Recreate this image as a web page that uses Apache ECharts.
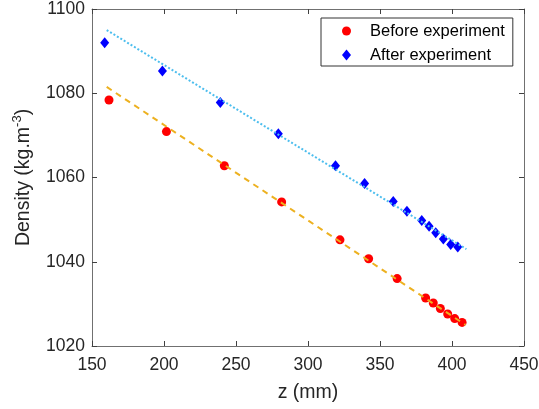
<!DOCTYPE html>
<html>
<head>
<meta charset="utf-8">
<script src="https://cdn.jsdelivr.net/npm/echarts@6/dist/echarts.min.js"></script>
<style>html,body{margin:0;padding:0;background:#fff;}#c{width:539px;height:409px;}</style>
</head>
<body>
<div id="c"></div>
<script>
var beforeZ = [161.8, 201.7, 241.9, 281.7, 322.2, 342.1, 361.9, 381.7, 387.0, 391.9, 397.0, 401.9, 407.0];
var beforeD = [1078.4, 1070.9, 1062.8, 1054.2, 1045.2, 1040.7, 1036.0, 1031.4, 1030.2, 1028.9, 1027.6, 1026.5, 1025.6];
var afterZ = [158.8, 198.9, 239.1, 279.4, 319.1, 339.3, 359.2, 368.7, 379.0, 384.1, 388.7, 394.0, 399.1, 404.0];
var afterD = [1092.0, 1085.3, 1077.8, 1070.4, 1062.8, 1058.6, 1054.3, 1052.0, 1049.8, 1048.4, 1046.9, 1045.4, 1044.1, 1043.5];
var fitBeforeZ = [160.2, 409.4];
var fitBeforeD = [1081.5, 1025.0];
var fitAfterZ = [160.2, 410.0];
var fitAfterD = [1095.0, 1043.0];
var seriesNames = ['Before experiment', 'After experiment'];
var xTitle = 'z (mm)';
var yTitle = 'Density (kg.m{sup|-3})';

function pairs(a, b) { return a.map(function (v, i) { return [v, b[i]]; }); }

var font = 'Liberation Sans, Arial, Helvetica, sans-serif';
var txt = '#262626';
var axisCol = '#707070';
var plain = function (v) { return String(v); };

var chart = echarts.init(document.getElementById('c'), null, {renderer: 'canvas'});
var boxAxis = {
  axisLine: {show: true, lineStyle: {color: axisCol, width: 1}},
  axisTick: {show: true, inside: true, length: 5, lineStyle: {color: '#404040'}},
  axisLabel: {show: false},
  splitLine: {show: false}
};
chart.setOption({
  animation: false,
  backgroundColor: '#fff',
  grid: {left: 92, right: 15, top: 9, bottom: 63, containLabel: false, outerBoundsMode: 'none'},
  legend: {
    left: 321, top: 18, orient: 'vertical',
    backgroundColor: '#fff', borderColor: '#333', borderWidth: 1,
    padding: [4, 8, 2, 21],
    itemWidth: 9, itemHeight: 11, itemGap: 6,
    textStyle: {fontFamily: font, fontSize: 16.5, color: '#000', lineHeight: 18, padding: [0, 0, 0, 14]},
    data: [{name: seriesNames[0], icon: 'circle'}, {name: seriesNames[1], icon: 'diamond'}]
  },
  xAxis: [{
    type: 'value', min: 150, max: 450, interval: 50, position: 'bottom',
    name: xTitle, nameLocation: 'middle', nameGap: 37,
    nameTextStyle: {fontFamily: font, fontSize: 19.5, color: txt},
    axisLine: {show: true, lineStyle: {color: axisCol, width: 1}},
    axisTick: {show: true, inside: true, length: 5, lineStyle: {color: '#404040'}},
    axisLabel: {fontFamily: font, fontSize: 17.5, color: txt, margin: 10, formatter: plain},
    splitLine: {show: false}
  }, Object.assign({type: 'value', min: 150, max: 450, interval: 50, position: 'top'}, boxAxis)],
  yAxis: [{
    type: 'value', min: 1020, max: 1100, interval: 20, position: 'left',
    name: yTitle, nameLocation: 'middle', nameGap: 55, nameRotate: 90,
    nameTextStyle: {fontFamily: font, fontSize: 19.5, color: txt,
      rich: {sup: {fontFamily: font, fontSize: 13, color: txt, verticalAlign: 'bottom', padding: [0, 0, 13, 0]}}},
    axisLine: {show: true, lineStyle: {color: axisCol, width: 1}},
    axisTick: {show: true, inside: true, length: 5, lineStyle: {color: '#404040'}},
    axisLabel: {fontFamily: font, fontSize: 17.5, color: txt, margin: 7, formatter: plain},
    splitLine: {show: false}
  }, Object.assign({type: 'value', min: 1020, max: 1100, interval: 20, position: 'right'}, boxAxis)],
  series: [
    {name: seriesNames[0], type: 'scatter', symbol: 'circle', symbolSize: 9,
     itemStyle: {color: '#ff0000', opacity: 1}, data: pairs(beforeZ, beforeD), z: 2},
    {name: seriesNames[1], type: 'scatter', symbol: 'diamond', symbolSize: [9, 11],
     itemStyle: {color: '#0000ff', opacity: 1}, data: pairs(afterZ, afterD), z: 2},
    {name: 'fitBefore', type: 'line', symbol: 'none', silent: true,
     lineStyle: {color: '#EDB120', width: 2, type: [6, 5]}, data: pairs(fitBeforeZ, fitBeforeD), z: 3},
    {name: 'fitAfter', type: 'line', symbol: 'none', silent: true,
     lineStyle: {color: '#4DBEEE', width: 2, type: [2, 2]}, data: pairs(fitAfterZ, fitAfterD), z: 3}
  ]
});
</script>
</body>
</html>
